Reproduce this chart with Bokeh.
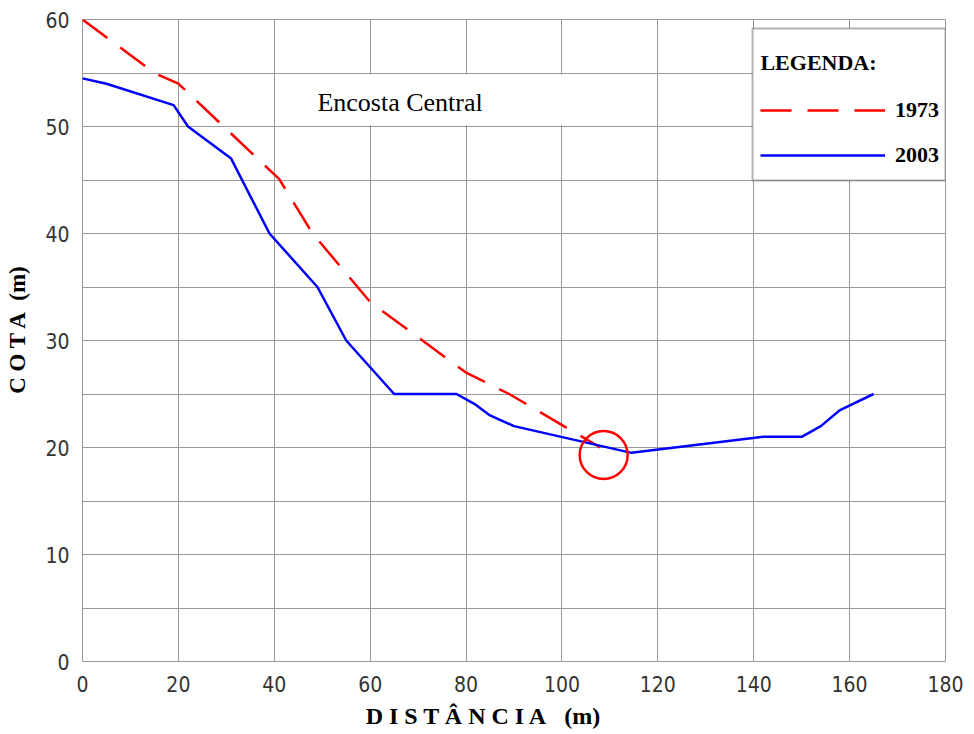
from bokeh.plotting import figure
from bokeh.models import (FixedTicker, Legend, LegendItem, Label, BoxAnnotation,
                          ColumnDataSource)
from bokeh.embed import file_html
from bokeh.resources import INLINE

# ---- data ----
x_1973 = [0, 15, 20, 41, 48, 60, 80, 89, 108]
y_1973 = [60, 55, 54, 45.1, 40, 33.6, 27, 25, 20]

x_2003 = [0, 5, 19, 22, 31, 39, 49, 55, 65, 78, 82, 85, 90, 114.5, 142, 150, 154, 158, 165]
y_2003 = [54.5, 54, 52, 50, 47, 40, 35, 30, 25, 25, 24, 23, 22, 19.5, 21, 21, 22, 23.5, 25]

highlight_x = [108.7]
highlight_y = [19.3]

x_ticks = [0, 20, 40, 60, 80, 100, 120, 140, 160, 180]
y_ticks = [0, 10, 20, 30, 40, 50, 60]
x_grid = [0, 20, 40, 60, 80, 100, 120, 140, 160, 180]
y_grid = [0, 5, 10, 15, 20, 25, 30, 35, 40, 45, 50, 55, 60]

title_text = "Encosta Central"
NB = "\u00a0"

p = figure(width=974, height=734, x_range=(0, 180), y_range=(0, 60),
           output_backend="svg", toolbar_location=None,
           min_border_left=82, min_border_right=29, min_border_top=19,
           min_border_bottom=73)
p.background_fill_color = "white"
p.border_fill_color = "white"
p.outline_line_color = "#999999"
p.outline_line_width = 1

grid_color = "#999999"
p.xgrid.ticker = FixedTicker(ticks=x_grid)
p.ygrid.ticker = FixedTicker(ticks=y_grid)
p.xgrid.grid_line_color = grid_color
p.ygrid.grid_line_color = grid_color
p.xgrid.grid_line_width = 1
p.ygrid.grid_line_width = 1

tick_font = "Liberation Sans Narrow, DejaVu Sans Condensed, Liberation Sans"
for ax in (p.xaxis[0], p.yaxis[0]):
    ax.axis_line_color = None
    ax.major_tick_line_color = None
    ax.minor_tick_line_color = None
    ax.major_tick_out = 0
    ax.major_tick_in = 0
    ax.minor_tick_out = 0
    ax.minor_tick_in = 0
    ax.major_label_text_font = tick_font
    ax.major_label_text_font_size = "21px"
    ax.major_label_text_color = "#333333"
    ax.axis_label_text_font = "Liberation Serif"
    ax.axis_label_text_font_style = "bold"
    ax.axis_label_text_color = "black"

p.xaxis.ticker = FixedTicker(ticks=x_ticks)
p.yaxis.ticker = FixedTicker(ticks=y_ticks)
p.xaxis.major_label_standoff = 14
p.yaxis.major_label_standoff = 13
p.xaxis.axis_label = "D I S T \u00c2 N C I A" + NB * 3 + "(m)" + NB * 10
p.yaxis.axis_label = NB * 4 + "C O T A" + NB * 2 + "(m)"
p.xaxis.axis_label_text_font_size = "24px"
p.yaxis.axis_label_text_font_size = "23px"
p.xaxis.axis_label_standoff = 8
p.yaxis.axis_label_standoff = 12

# white box behind the title text
box = BoxAnnotation(left=41.5, right=117.5, bottom=50.15, top=54.85,
                    fill_color="white", fill_alpha=1.0, line_color=None)
p.add_layout(box)

lbl = Label(x=49, y=52.2, text=title_text, text_font="Times New Roman, Liberation Serif, serif",
            text_font_size="26px", text_color="black", text_baseline="middle",
            text_align="left")
p.add_layout(lbl)

src73 = ColumnDataSource(dict(x=x_1973, y=y_1973))
src03 = ColumnDataSource(dict(x=x_2003, y=y_2003))

r73 = p.line("x", "y", source=src73, line_color="#ff0000", line_width=2.5,
             line_dash="31 16")
r03 = p.line("x", "y", source=src03, line_color="#0000ff", line_width=2.5)

p.scatter(highlight_x, highlight_y, marker="circle", size=48, fill_color=None,
          line_color="#ff0000", line_width=2.5)

# legend frame
legbox = BoxAnnotation(left=139.75, right=180, bottom=44.95, top=59.16,
                       fill_color="white", fill_alpha=1.0, line_color="black",
                       line_width=2)
p.add_layout(legbox)

legtitle = Label(x=141.4, y=55.98, text="LEGENDA:",
                 text_font="Times New Roman, Liberation Serif, serif",
                 text_font_style="bold", text_font_size="22px",
                 text_color="black", text_baseline="middle", text_align="left")
p.add_layout(legtitle)

legend = Legend(items=[LegendItem(label="1973", renderers=[r73]),
                       LegendItem(label="2003", renderers=[r03])],
                location=(678, 491))
legend.label_text_font = "Times New Roman, Liberation Serif, serif"
legend.label_text_font_style = "bold"
legend.label_text_font_size = "22px"
legend.label_text_color = "black"
legend.glyph_width = 125
legend.glyph_height = 30
legend.label_height = 30
legend.label_standoff = 10
legend.spacing = 15
legend.padding = 0
legend.margin = 0
legend.border_line_color = None
legend.background_fill_alpha = 0.0
p.add_layout(legend)

open("out.html", "w").write(file_html(p, INLINE))
